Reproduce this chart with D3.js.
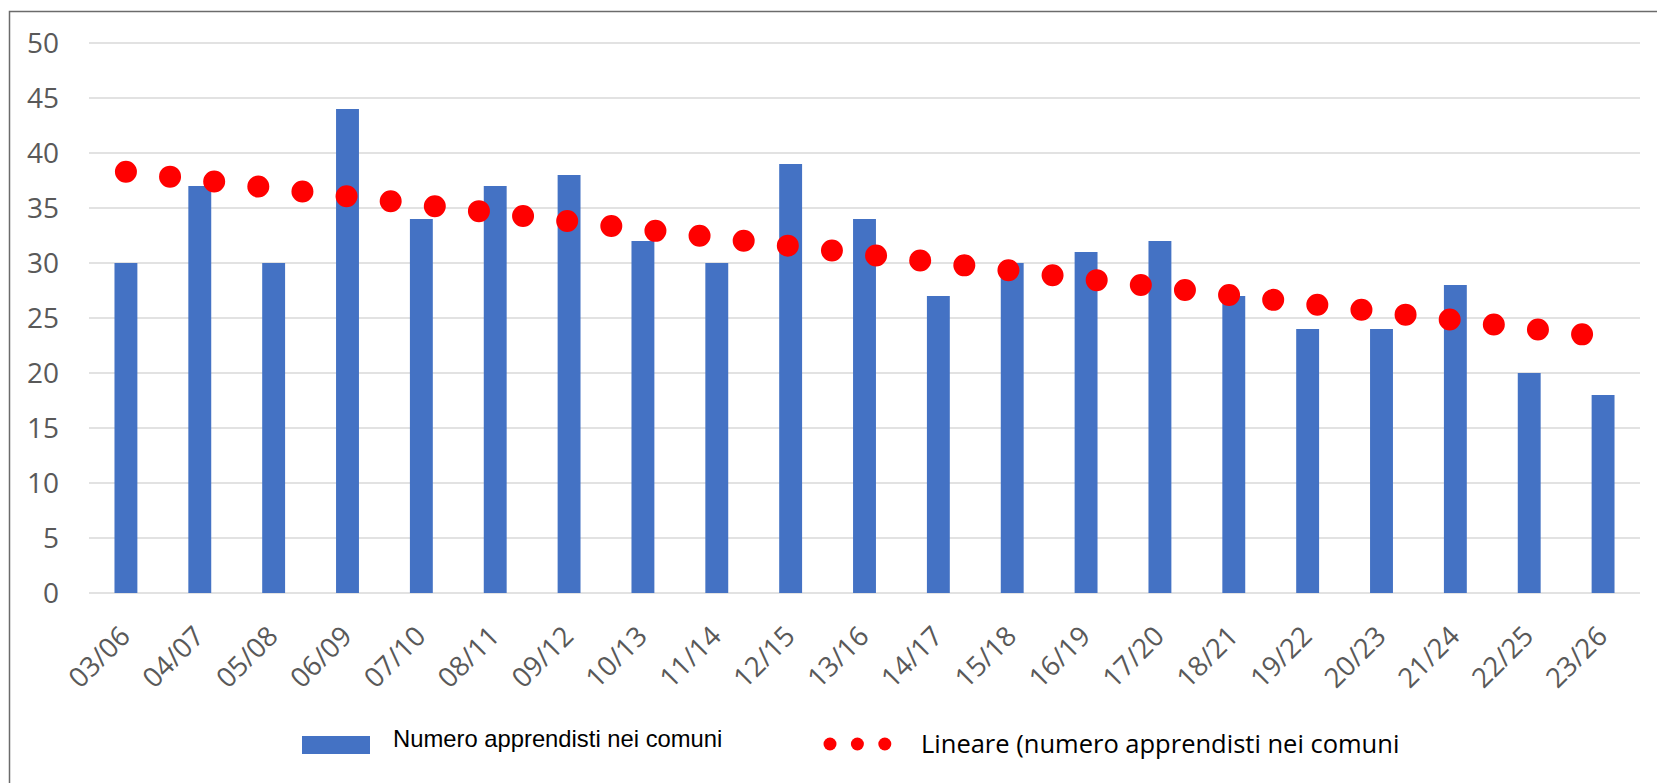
<!DOCTYPE html>
<html>
<head>
<meta charset="utf-8">
<script src="https://cdn.jsdelivr.net/npm/d3@7"></script>
<style>
  body { margin: 0; background: #fff; }
  svg { display: block; }
</style>
</head>
<body>
<script>
var svg_width  = 1657;
var svg_height = 783;

// data
var years = ["03/06","04/07","05/08","06/09","07/10","08/11","09/12","10/13","11/14","12/15",
             "13/16","14/17","15/18","16/19","17/20","18/21","19/22","20/23","21/24","22/25","23/26"];
var apprendisti = [30,37,30,44,34,37,38,32,30,39,34,27,30,31,32,27,24,24,28,20,18];
// trend line ends (first and last category), as drawn
var trendEnds = [38.3, 23.3];
var yTicks = [0,5,10,15,20,25,30,35,40,45,50];

var svg = d3.select('body').append('svg')
            .attr('width', svg_width)
            .attr('height', svg_height);

// chart frame, runs off the right and bottom edge
svg.append("rect")
   .attr("x", 9.5).attr("y", 11.5)
   .attr("width", 1700).attr("height", 800)
   .attr("fill", "none")
   .attr("stroke", "#6b6b6b")
   .attr("stroke-width", 1.5);

var x = d3.scaleBand()
          .domain(years)
          .range([89, 1640])
          .paddingInner(0.69)
          .paddingOuter(0.345);

var y = d3.scaleLinear()
          .domain([0, 50])
          .range([593, 43]);

// gridlines
svg.append("g")
   .selectAll("line")
   .data(yTicks)
   .enter().append("line")
   .attr("x1", 89).attr("x2", 1640)
   .attr("y1", d => y(d)).attr("y2", d => y(d))
   .attr("stroke", "#d9d9d9")
   .attr("stroke-width", 1.5);

// y axis labels
var yAxis = d3.axisLeft(y).tickValues(yTicks).tickSize(0).tickPadding(0);
var gy = svg.append("g")
   .attr("transform", "translate(59,0)")
   .call(yAxis);
gy.select(".domain").remove();
gy.selectAll("text")
  .attr("font-family", "'Open Sans', sans-serif")
  .attr("font-size", 28)
  .attr("fill", "#595959")
  .attr("dy", "0.35em");

// bars
svg.append("g")
   .selectAll("rect")
   .data(apprendisti)
   .enter().append("rect")
   .attr("x", (d, i) => x(years[i]))
   .attr("y", d => y(d))
   .attr("width", x.bandwidth())
   .attr("height", d => y(0) - y(d))
   .attr("fill", "#4472c4");

// x labels, rotated
var xAxis = d3.axisBottom(x).tickSize(0).tickPadding(0);
var gx = svg.append("g")
   .attr("transform", "translate(0,593)")
   .call(xAxis);
gx.select(".domain").remove();
gx.selectAll("text")
  .attr("font-family", "'Open Sans', sans-serif")
  .attr("font-size", 27.5)
  .attr("fill", "#595959")
  .attr("text-anchor", "end")
  .attr("dy", null)
  .attr("y", 0)
  .attr("transform", "translate(6,45) rotate(-45)");

// linear trend, dotted
var cx = d3.scalePoint().domain([0, 1]).range([x(years[0]) + x.bandwidth()/2, x(years[years.length-1]) + x.bandwidth()/2]);
var trendLine = d3.line()
   .x((d, i) => cx(i))
   .y(d => y(d));
svg.append("path")
   .datum(trendEnds)
   .attr("d", trendLine)
   .attr("fill", "none")
   .attr("stroke", "#ff0000")
   .attr("stroke-width", 22)
   .attr("stroke-linecap", "round")
   .attr("stroke-dasharray", "0 44.4");

// legend
var legend = svg.append("g");
legend.append("rect")
   .attr("x", 302).attr("y", 736)
   .attr("width", 68).attr("height", 18)
   .attr("fill", "#4472c4");
legend.append("text")
   .attr("x", 393).attr("y", 747)
   .attr("font-family", "'Liberation Sans', Arial, sans-serif")
   .attr("font-size", 23.8)
   .attr("fill", "#000")
   .text("Numero apprendisti nei comuni");
legend.append("g")
   .selectAll("circle")
   .data([0, 1, 2])
   .enter().append("circle")
   .attr("cx", d => 830 + d * 27.4)
   .attr("cy", 744)
   .attr("r", 6.5)
   .attr("fill", "#ff0000");
legend.append("text")
   .attr("x", 921).attr("y", 752.5)
   .attr("font-family", "'Open Sans', sans-serif")
   .attr("font-size", 25.5)
   .attr("fill", "#000")
   .text("Lineare (numero apprendisti nei comuni");
</script>
</body>
</html>
